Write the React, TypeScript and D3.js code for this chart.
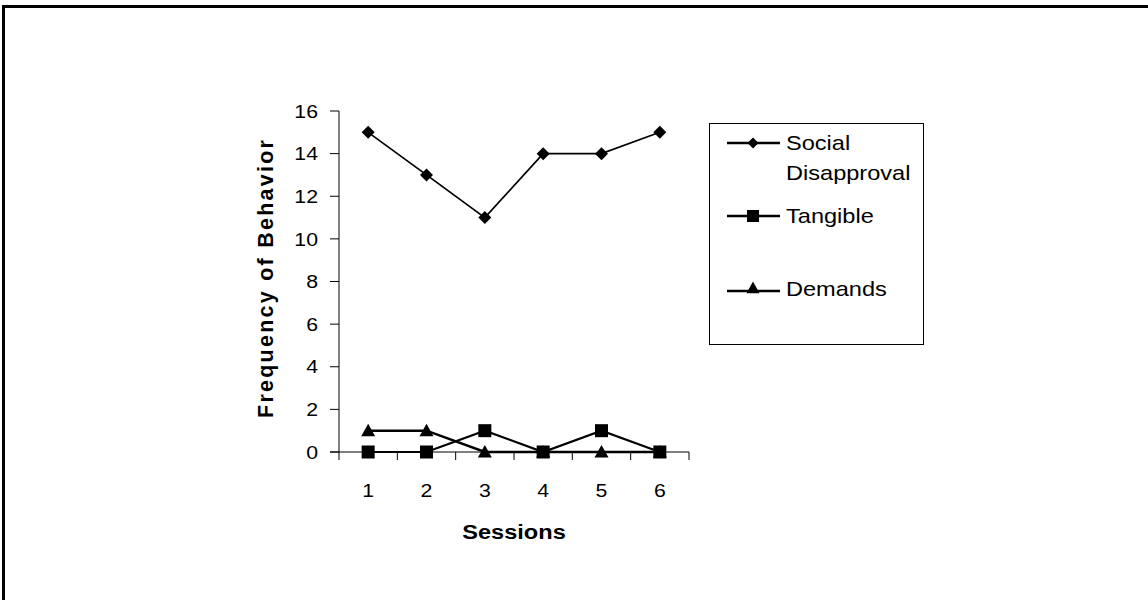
import React from "react";
import * as d3 from "d3";

const sessions = ["1", "2", "3", "4", "5", "6"];
const socialDisapproval = [15, 13, 11, 14, 14, 15];
const tangible = [0, 0, 1, 0, 1, 0];
const demands = [1, 1, 0, 0, 0, 0];
const yTicks = [0, 2, 4, 6, 8, 10, 12, 14, 16];

const FONT = "'Liberation Sans', Arial, sans-serif";
const SX = 1.15;

function T(props: { x: number; y: number; size: number; anchor?: string; bold?: boolean; children: React.ReactNode }) {
  return (
    <text
      transform={`translate(${props.x},${props.y}) scale(${SX},1)`}
      textAnchor={props.anchor || "start"}
      fontSize={props.size}
      fontWeight={props.bold ? "bold" : "normal"}
    >
      {props.children}
    </text>
  );
}

export default function App() {
  const W = 1148, H = 600;
  const x0 = 339, x1 = 689, yTop = 111, yBot = 452;
  const x = d3.scaleBand<string>().domain(sessions).range([x0, x1]);
  const cx = (s: string) => (x(s) as number) + x.bandwidth() / 2;
  const y = d3.scaleLinear().domain([0, 16]).range([yBot, yTop]);
  const line = d3.line<number>().x((_, i) => cx(sessions[i])).y((d) => y(d));

  const diamond = (px: number, py: number, r = 6.5) =>
    `M${px},${py - r}L${px + r},${py}L${px},${py + r}L${px - r},${py}Z`;
  const square = (px: number, py: number, r = 6.5) => (
    <rect x={px - r} y={py - r} width={2 * r} height={2 * r} fill="#000" />
  );
  const tri = (px: number, py: number, r = 7) =>
    `M${px},${py - r}L${px + r},${py + r * 0.8}L${px - r},${py + r * 0.8}Z`;

  const legendX = 727, legendX2 = 780, legendM = 753;

  return (
    <svg width={W} height={H} style={{ position: "absolute", left: 0, top: 0, background: "#fff" }} fontFamily={FONT}>
      {/* frame */}
      <line x1={2} y1={6.5} x2={W} y2={6.5} stroke="#000" strokeWidth={3} />
      <line x1={3.5} y1={5} x2={3.5} y2={H} stroke="#000" strokeWidth={3} />

      {/* y axis */}
      <line x1={x0} y1={yTop} x2={x0} y2={yBot} stroke="#000" strokeWidth={1} />
      {yTicks.map((t) => (
        <g key={t}>
          <line x1={x0 - 9} x2={x0} y1={y(t)} y2={y(t)} stroke="#000" />
          <T x={318} y={y(t) + 6.7} size={18.5} anchor="end">{t}</T>
        </g>
      ))}
      {/* x axis */}
      <line x1={x0 - 9} y1={yBot} x2={x1} y2={yBot} stroke="#000" strokeWidth={1} />
      {sessions.map((s, i) => (
        <g key={s}>
          <line x1={x0 + x.step() * (i + 1)} x2={x0 + x.step() * (i + 1)} y1={yBot} y2={yBot + 8} stroke="#000" />
          <T x={cx(s)} y={497} size={18.5} anchor="middle">{s}</T>
        </g>
      ))}
      <line x1={x0} x2={x0} y1={yBot} y2={yBot + 8} stroke="#000" />

      <T x={514} y={538.5} size={20.5} anchor="middle" bold>Sessions</T>
      <text
        transform={`translate(273,279) rotate(-90)`}
        textAnchor="middle"
        fontSize={21.5}
        fontWeight="bold"
        textLength={278}
        lengthAdjust="spacing"
      >
        Frequency of Behavior
      </text>

      {/* series */}
      <path d={line(socialDisapproval) as string} fill="none" stroke="#000" strokeWidth={1.7} />
      <path d={line(tangible) as string} fill="none" stroke="#000" strokeWidth={2.2} />
      <path d={line(demands) as string} fill="none" stroke="#000" strokeWidth={2.5} />
      {socialDisapproval.map((v, i) => (
        <path key={"s" + i} d={diamond(cx(sessions[i]), y(v))} fill="#000" />
      ))}
      {demands.map((v, i) => (
        <path key={"d" + i} d={tri(cx(sessions[i]), y(v))} fill="#000" />
      ))}
      {tangible.map((v, i) => (
        <g key={"t" + i}>{square(cx(sessions[i]), y(v))}</g>
      ))}

      {/* legend */}
      <rect x={709.5} y={123.5} width={214} height={221} fill="none" stroke="#000" strokeWidth={1} />
      <line x1={legendX} x2={legendX2} y1={143} y2={143} stroke="#000" strokeWidth={2.5} />
      <path d={diamond(legendM, 143, 5.5)} fill="#000" />
      <T x={786} y={150} size={20.5}>Social</T>
      <T x={786} y={180} size={20.5}>Disapproval</T>
      <line x1={legendX} x2={legendX2} y1={216} y2={216} stroke="#000" strokeWidth={2.5} />
      {square(legendM, 216, 6)}
      <T x={786} y={223} size={20.5}>Tangible</T>
      <line x1={legendX} x2={legendX2} y1={291} y2={291} stroke="#000" strokeWidth={2.5} />
      <path d={tri(legendM, 288, 6.5)} fill="#000" />
      <T x={786} y={296} size={20.5}>Demands</T>
    </svg>
  );
}
